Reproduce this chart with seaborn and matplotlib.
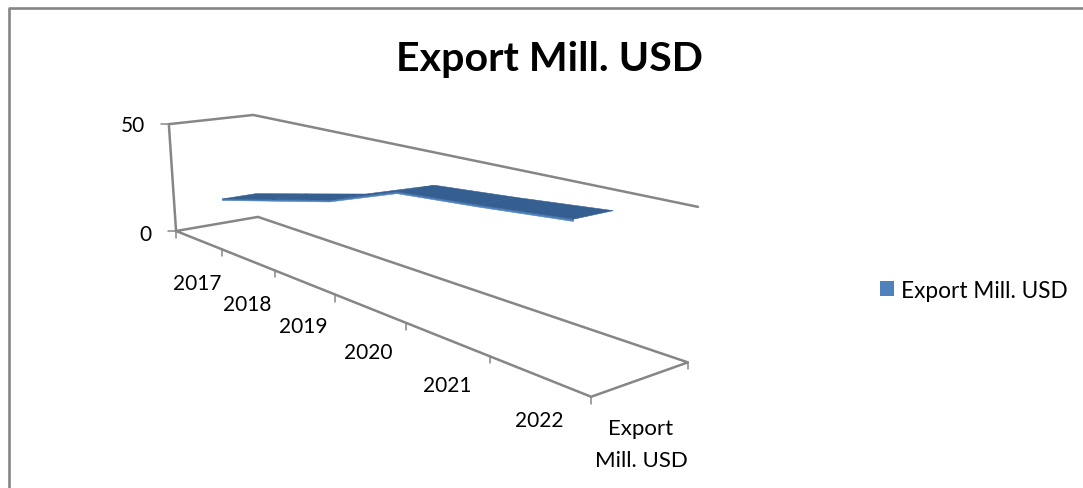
import numpy as np
import pandas as pd
import seaborn as sns
import matplotlib
matplotlib.use("Agg")
import matplotlib.pyplot as plt
from matplotlib.patches import Patch

years = ["2017", "2018", "2019", "2020", "2021", "2022"]
export_mill_usd = [17, 24, 31, 41.4, 44, 47]
value_ticks = [0, 50]
series_name = "Export Mill. USD"
title_text = "Export Mill. USD"
depth_labels = ["Export", "Mill. USD"]

GREY = "#868686"
TOP_FACE = "#365F91"
FRONT_FACE = "#4F81BD"
TEXT = "#000000"

sns.set_theme(style="white")
plt.rcParams["font.family"] = ["Lato", "DejaVu Sans"]

fig, ax = plt.subplots(figsize=(10.83, 4.89), dpi=100)
ax.set_position([0, 0, 1, 1])
ax.set_xlim(0, 1083)
ax.set_ylim(489, 0)
ax.axis("off")

# Perspective camera: solved from the box corners (category, depth, value), in pixels.
box_world = [(0, 0, 0), (1, 0, 0), (1, 1, 0), (0, 1, 0), (0, 0, 1), (0, 1, 1), (1, 1, 1)]
box_pixel = [(176, 232), (591, 398), (688, 363), (258, 218), (169, 125), (253, 116), (698, 208)]
rows = []
for (wx, wy, wz), (px, py) in zip(box_world, box_pixel):
    rows.append([wx, wy, wz, 1, 0, 0, 0, 0, -px * wx, -px * wy, -px * wz, -px])
    rows.append([0, 0, 0, 0, wx, wy, wz, 1, -py * wx, -py * wy, -py * wz, -py])
camera = np.linalg.svd(np.array(rows, float))[2][-1].reshape(3, 4)


def project(cat, depth, value):
    """Map category position (0-6), depth (0-1) and value (0-50) to the canvas."""
    h = camera @ np.array([cat / len(years), depth, value / value_ticks[-1], 1.0])
    return h[0] / h[2], h[1] / h[2]


def wire(points, width=1.8, color=GREY):
    xy = pd.DataFrame(points, columns=["x", "y"])
    sns.lineplot(data=xy, x="x", y="y", ax=ax, sort=False, estimator=None,
                 color=color, linewidth=width, legend=False)


# Chart area border, open at the bottom and right
wire([(8.5, 489), (8.5, 8.5), (1083, 8.5)], width=1.9)

# Floor and walls of the 3D box
n = len(years)
top = value_ticks[-1]
wire([project(0, 0, 0), project(n, 0, 0), project(n, 1, 0), project(0, 1, 0), project(0, 0, 0)])
wire([project(0, 0, 0), project(0, 0, top), project(0, 1, top), project(n, 1, top)])

# Tick marks
for i in range(n + 1):
    x0, y0 = project(i, 0, 0)
    wire([(x0, y0), (x0, y0 + 7)], width=1.1)
x0, y0 = project(n, 1, 0)
wire([(x0, y0), (x0, y0 + 7)], width=1.1)
for v in value_ticks:
    x0, y0 = project(0, 0, v)
    wire([(x0 - 8, y0), (x0, y0)], width=1.1)

# Ribbon: one flat top face and a thin front edge per segment
near, far = 0.30, 0.70
thick = 0.7
cats = np.arange(n) + 0.5
for i in range(n - 1):
    c0, c1 = cats[i], cats[i + 1]
    v0, v1 = export_mill_usd[i], export_mill_usd[i + 1]
    ax.fill(*zip(project(c0, near, v0), project(c1, near, v1),
                 project(c1, near, v1 - thick), project(c0, near, v0 - thick)),
            color=FRONT_FACE, linewidth=0.4, zorder=3)
    ax.fill(*zip(project(c0, near, v0), project(c1, near, v1),
                 project(c1, far, v1), project(c0, far, v0)),
            color=TOP_FACE, linewidth=0.4, zorder=4)

# Axis text
tick_size = 15
for v, (lx, ly) in zip(value_ticks, [(152, 235), (145, 126.5)]):
    ax.text(lx, ly, str(v), ha="right", va="center", fontsize=tick_size, color=TEXT)
year_pos = [(197, 284), (247, 305), (303, 327), (368, 353), (447, 386), (539, 421)]
for label, (lx, ly) in zip(years, year_pos):
    ax.text(lx, ly, label, ha="center", va="center", fontsize=tick_size, color=TEXT)
for label, ly in zip(depth_labels, [429, 461]):
    ax.text(641, ly, label, ha="center", va="center", fontsize=16, color=TEXT)

ax.text(550, 60, title_text, ha="center", va="center", fontsize=29.6, fontweight="bold", color=TEXT)

legend_size = 16.3
ax.legend(handles=[Patch(facecolor=FRONT_FACE, edgecolor="none", label=series_name)],
          loc="center left", bbox_to_anchor=(880, 291), bbox_transform=ax.transData,
          frameon=False, fontsize=legend_size, labelcolor=TEXT,
          handlelength=10 / legend_size, handleheight=10 / legend_size,
          handletextpad=0.31, borderpad=0, borderaxespad=0)

fig.savefig("out.png", dpi=100, facecolor="white")
